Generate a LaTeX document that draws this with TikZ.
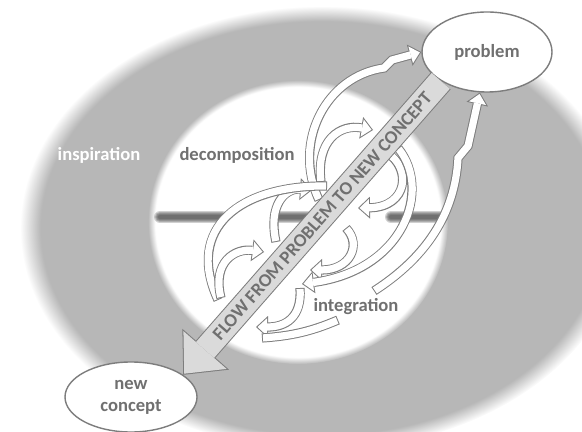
\documentclass[tikz,border=0pt]{standalone}
\usepackage{fontspec}
\setmainfont{Carlito}
\usetikzlibrary{arrows.meta,shapes.geometric}
\definecolor{bggray}{RGB}{183,183,183}
\definecolor{linegray}{RGB}{125,125,125}
\definecolor{txtgray}{RGB}{112,112,112}
\definecolor{flowfill}{RGB}{218,218,218}
\definecolor{bargray}{RGB}{70,70,70}
\pgfdeclareradialshading{softgray}{\pgfpointorigin}{color(0bp)=(bggray); color(23.3bp)=(bggray); color(25bp)=(white); color(50bp)=(white)}
\pgfdeclareradialshading{softwhite}{\pgfpointorigin}{color(0bp)=(white); color(23.8bp)=(white); color(25bp)=(bggray); color(50bp)=(bggray)}
\tikzset{
  word/.style={font=\fontsize{9.3}{11}\selectfont\bfseries, text=txtgray},
  endpoint/.style={word, ellipse, draw=linegray, line width=0.7pt, fill=white, inner sep=0pt, align=center},
  hollow/.style={draw=linegray, line width=4.6pt, -{Triangle[length=6pt, width=11pt, line width=0pt]},
    postaction={draw=white, line width=3.6pt, shorten >=0.75pt, shorten <=0.5pt,
      -{Triangle[length=4.75pt, width=8.7pt, line width=0pt]}}},
  hollowtail/.style={draw=linegray, line width=4.6pt,
    postaction={draw=white, line width=3.6pt, shorten >=0.5pt, shorten <=0.5pt}},
  flow/.style={draw=linegray, line width=13pt, -{Triangle[length=17pt, width=31pt, line width=0pt]},
    postaction={draw=flowfill, line width=12pt, shorten >=0.75pt,
      -{Triangle[length=15.75pt, width=28.7pt, line width=0pt]}}},
  blurbar/.style={draw=bargray, line cap=round, line width=#1, opacity=0.25}
}
\begin{document}
\begin{tikzpicture}[x=0.5pt, y=-0.5pt]
  \useasboundingbox (0,0) rectangle (582,432);
  \shade[shading=softgray] (322,228) ellipse (302 and 222);
  \shade[shading=softwhite] (298,222) ellipse (150 and 142);
  \foreach \xa/\xb in {160/222, 276/312, 391/442}
    \foreach \w in {6pt,5pt,4pt,3pt,2pt}
      \draw[blurbar=\w] (\xa,217) -- (\xb,217);

  \node[word, text=white] (insp) at (99,155) {inspiration};
  \node[word] (decomp) at (237,155) {decomposition};
  \node[word] (integ) at (356,307) {integration};
  \node[endpoint, minimum width=65pt, minimum height=40pt] (problem) at (487,52) {problem};
  \node[endpoint, minimum width=66pt, minimum height=35pt] (newc) at (131,397) {new\\concept};

  \draw[hollow] (319,200) .. controls (292,142) and (326,76) .. (384,68) -- (392,60) -- (problem.west);
  \draw[hollow] (321,182) .. controls (316,140) and (340,124) .. (373,130);
  \draw[hollow] (276,242) .. controls (268,205) and (285,188) .. (312,190);
  \draw[hollowtail] (327,186) .. controls (240,185) and (185,228) .. (218,300);
  \draw[hollow] (221,298) .. controls (212,262) and (235,248) .. (264,252);

  \draw[hollow] (386,152) .. controls (412,168) and (408,207) .. (358,208);
  \draw[hollow] (346,228) .. controls (362,245) and (350,270) .. (310,270);
  \draw[hollow] (398,148) .. controls (432,190) and (404,270) .. (302,284);
  \draw[hollow] (300,288) .. controls (302,318) and (285,327) .. (256,327);
  \draw[hollowtail] (338,320) .. controls (310,332) and (290,336) .. (262,338);
  \draw[hollow] (374,291) .. controls (425,258) and (455,215) .. (458,158) -- (468,146) -- (problem.260);

  \draw[flow] (problem.212) -- (newc.23)
    node[word, pos=0.46, sloped] {FLOW FROM PROBLEM TO NEW CONCEPT};
\end{tikzpicture}
\end{document}
